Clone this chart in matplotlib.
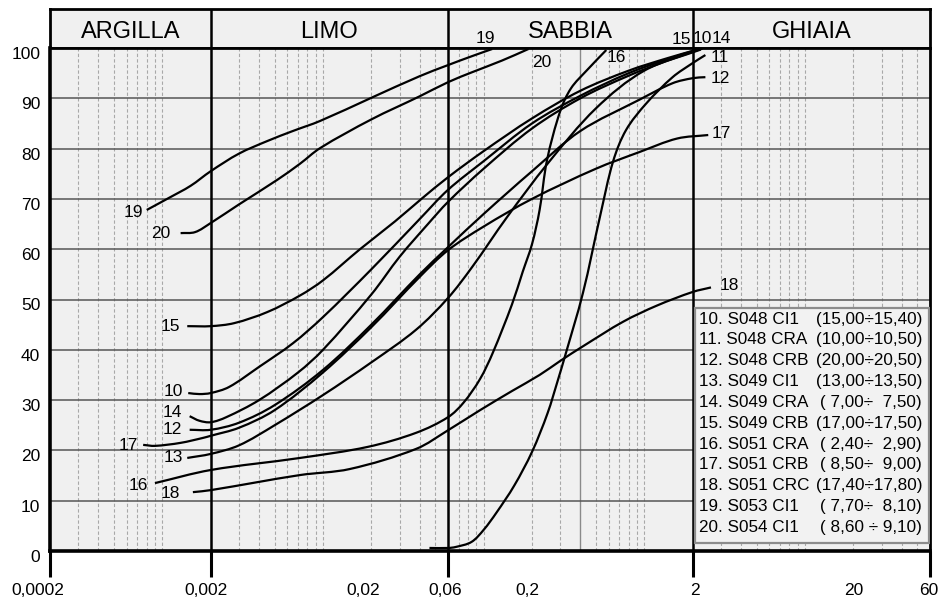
import numpy as np
import matplotlib.pyplot as plt
from matplotlib.patches import Rectangle, PathPatch
from matplotlib.path import Path
from matplotlib.transforms import ScaledTranslation
from matplotlib.ticker import NullLocator

plt.rcParams['font.family'] = ['Liberation Sans', 'DejaVu Sans']

# classi granulometriche
classes = ['ARGILLA', 'LIMO', 'SABBIA', 'GHIAIA']
class_limits = [0.0002, 0.002, 0.06, 2, 60]

x_ticks = [0.0002, 0.002, 0.02, 0.06, 0.2, 2, 20, 60]
x_tick_labels = ['0,0002', '0,002', '0,02', '0,06', '0,2', '2', '20', '60']
x_label_shift = [-12, -5, -8, -3, -5, 2, 0, -1]   # pixel
y_ticks = list(range(0, 101, 10))

# curve granulometriche: diametro (mm) e passante (%)
d10 = [0.00145, 0.0017, 0.002, 0.0026, 0.004, 0.0065, 0.01, 0.02, 0.04, 0.06, 0.1, 0.2, 0.4, 0.8, 1.4, 2.25]
p10 = [31.4, 31.2, 31.4, 32.6, 36.6, 41.3, 46.5, 56, 66, 71.8, 77.5, 85, 90.5, 95, 97.8, 99.9]

d11 = [0.046, 0.06, 0.067, 0.084, 0.1, 0.12, 0.155, 0.2, 0.25, 0.29, 0.32, 0.415, 0.53, 0.64, 0.77, 1.03, 1.5, 2.0, 2.4]
p11 = [0.6, 0.6, 0.8, 1.8, 4.2, 7.6, 13.0, 19.7, 27.4, 34, 38.6, 51.3, 66.5, 77.5, 83.7, 89, 94.2, 97, 98.6]

d12 = [0.00148, 0.002, 0.003, 0.005, 0.01, 0.02, 0.04, 0.06, 0.1, 0.2, 0.4, 0.93, 1.5, 2.0, 2.4]
p12 = [24.1, 24.1, 25.5, 29, 36, 45, 55, 60.4, 67, 75.5, 83.5, 89.7, 93, 94, 94.2]

d13 = [0.00143, 0.002, 0.003, 0.005, 0.01, 0.02, 0.038, 0.06, 0.085, 0.14, 0.25, 0.5, 1.0, 2.25]
p13 = [18.5, 19.3, 21, 25, 31, 37.5, 44, 50.3, 56.5, 66.4, 77, 88, 95.5, 99.7]

d14 = [0.00148, 0.0017, 0.002, 0.0025, 0.004, 0.007, 0.01, 0.02, 0.03, 0.045, 0.06, 0.1, 0.2, 0.4, 0.8, 1.4, 2.3]
p14 = [26.8, 25.9, 25.6, 26.6, 30, 35.5, 40, 51, 58.5, 65, 69.4, 76, 84, 90, 94.5, 97.5, 99.9]

d15 = [0.00143, 0.002, 0.0028, 0.0045, 0.0072, 0.01, 0.017, 0.028, 0.041, 0.06, 0.1, 0.2, 0.4, 0.8, 1.4, 2.2]
p15 = [44.7, 44.7, 45.3, 47.5, 50.8, 53.8, 60, 65.5, 70, 74.3, 79.5, 86, 91.5, 95.5, 98, 99.8]

d16 = [0.0009, 0.002, 0.0072, 0.019, 0.038, 0.06, 0.075, 0.095, 0.114, 0.15, 0.175, 0.2, 0.223, 0.248, 0.3, 0.35, 0.44, 0.58]
p16 = [13.5, 16.1, 18.5, 20.7, 23.5, 26.6, 29.5, 34.2, 39.4, 49, 55.5, 61, 67.8, 77.7, 87.5, 92, 95.6, 99.6]

d17 = [0.00076, 0.0009, 0.0013, 0.0018, 0.002, 0.003, 0.005, 0.01, 0.02, 0.04, 0.06, 0.1, 0.2, 0.5, 0.93, 1.6, 2.5]
p17 = [21.1, 20.9, 21.5, 22.5, 22.9, 24.5, 28, 35.5, 44.5, 54.5, 59.8, 64.5, 70, 76, 79.3, 82, 82.7]

d18 = [0.00155, 0.002, 0.0072, 0.0147, 0.038, 0.06, 0.095, 0.15, 0.223, 0.3, 0.42, 0.74, 1.2, 2.0, 2.6]
p18 = [11.7, 12.1, 15.1, 16.3, 20.3, 24, 28, 31.8, 35, 37.8, 40.8, 45.6, 48.8, 51.5, 52.4]

d19 = [0.0008, 0.0011, 0.0015, 0.002, 0.003, 0.0045, 0.0065, 0.0096, 0.02, 0.04, 0.06, 0.085, 0.113]
p19 = [67.8, 70.2, 72.6, 75.5, 79.0, 81.5, 83.5, 85.5, 90.1, 94.4, 96.6, 98.4, 99.8]

d20 = [0.0013, 0.0016, 0.002, 0.003, 0.0052, 0.0072, 0.0096, 0.02, 0.04, 0.06, 0.085, 0.13, 0.19]
p20 = [63.2, 63.4, 65.2, 68.9, 73.8, 77.0, 80.1, 85.8, 90.4, 93.2, 95.2, 97.5, 99.8]

curves = {10: (d10, p10), 11: (d11, p11), 12: (d12, p12), 13: (d13, p13),
          14: (d14, p14), 15: (d15, p15), 16: (d16, p16), 17: (d17, p17),
          18: (d18, p18), 19: (d19, p19), 20: (d20, p20)}

# numeri delle curve: spostamento in pixel dal primo / ultimo punto
labels_start = {19: (-4, -3), 20: (-10, 0), 15: (-7, 0), 10: (-5, 2), 14: (-8, 4),
                12: (-8, 0), 17: (-5, -1), 13: (-4, 0), 16: (-7, -2), 18: (-13, -1)}
labels_end = {11: (5, -2, 'left'), 12: (5, -1, 'left'), 17: (3, 2, 'left'), 18: (9, 2, 'left'),
              19: (-7, 11, 'center'), 20: (13, -13, 'center'), 16: (10, -7, 'center'),
              15: (-18, 10, 'center'), 10: (1, 10, 'center'), 14: (19, 10, 'center')}

samples = ['10. S048 CI1', '11. S048 CRA', '12. S048 CRB', '13. S049 CI1', '14. S049 CRA',
           '15. S049 CRB', '16. S051 CRA', '17. S051 CRB', '18. S051 CRC', '19. S053 CI1',
           '20. S054 CI1']
depths = ['(15,00÷15,40)', '(10,00÷10,50)', '(20,00÷20,50)', '(13,00÷13,50)', '( 7,00÷  7,50)',
          '(17,00÷17,50)', '( 2,40÷  2,90)', '( 8,50÷  9,00)', '(17,40÷17,80)', '( 7,70÷  8,10)',
          '( 8,60 ÷ 9,10)']


def smooth_path(d, p, sx=160.7, sy=5.03):
    """Curva di Bezier che passa per i punti, costruita in coordinate log(x)."""
    pts = np.column_stack([np.log10(d) * sx, np.asarray(p, float) * sy])
    n = len(pts)
    tang = np.zeros_like(pts)
    for i in range(n):
        a = pts[max(i - 1, 0)]
        b = pts[min(i + 1, n - 1)]
        v = b - a
        tang[i] = v / np.hypot(*v)
    verts = [pts[0]]
    codes = [Path.MOVETO]
    for i in range(n - 1):
        L = np.hypot(*(pts[i + 1] - pts[i])) / 3
        verts += [pts[i] + tang[i] * L, pts[i + 1] - tang[i + 1] * L, pts[i + 1]]
        codes += [Path.CURVE4] * 3
    v = np.array(verts)
    v[:, 0] = 10 ** (v[:, 0] / sx)
    v[:, 1] = v[:, 1] / sy
    return Path(v, codes)


bg = '#f0f0f0'
fig = plt.figure(figsize=(9.43, 6.02), dpi=100)
hdr = fig.add_axes([50 / 943, 1 - 48 / 602, 880 / 943, 39 / 602])
ax = fig.add_axes([50 / 943, 51 / 602, 880 / 943, 503 / 602])

# griglia verticale logaritmica
xmin, xmax = class_limits[0], class_limits[-1]
grid_x = [k * 10.0 ** n for n in range(-4, 2) for k in range(1, 10)]
grid_x = [g for g in grid_x if xmin < g < xmax and g not in class_limits]

for a in (hdr, ax):
    a.set_xscale('log')
    a.set_xlim(xmin, xmax)
    a.set_facecolor(bg)
    for s in a.spines.values():
        s.set_linewidth(2)
    for c in class_limits[1:-1]:
        a.axvline(c, color='black', lw=1.8, zorder=3)

# intestazione con le classi
hdr.set_ylim(0, 1)
hdr.set_xticks([])
hdr.set_yticks([])
hdr.xaxis.set_minor_locator(NullLocator())
for name, lo, hi in zip(classes, class_limits[:-1], class_limits[1:]):
    hdr.text(np.sqrt(lo * hi), 0.42, name, ha='center', va='center', fontsize=17)

ax.set_ylim(0, 100)
for g in grid_x:
    if abs(g - 0.4) < 1e-9:
        ax.axvline(g, color='#8a8a8a', lw=1.0, zorder=1)
    else:
        ax.axvline(g, color='#a8a8a8', lw=0.8, ls=(0, (3, 2)), zorder=1)
for yv in y_ticks[1:-1]:
    ax.axhline(yv, color='#555555', lw=1.1, zorder=1)

ax.spines['left'].set_linewidth(2.6)
ax.spines['bottom'].set_linewidth(2.6)

ax.set_yticks(y_ticks)
ax.tick_params(axis='y', length=0, pad=7, labelsize=12.5)
for t in ax.yaxis.get_major_ticks():
    t.label1.set_transform(t.label1.get_transform() + ScaledTranslation(0, -0.05, fig.dpi_scale_trans))
ax.set_xticks(x_ticks, x_tick_labels)
ax.xaxis.set_minor_locator(NullLocator())
ax.tick_params(axis='x', length=19, width=2.2, pad=4, labelsize=12.5)
for t, v, sh in zip(ax.xaxis.get_major_ticks(), x_ticks, x_label_shift):
    if v not in class_limits:
        t.tick1line.set_visible(False)
    t.label1.set_transform(t.label1.get_transform() + ScaledTranslation(sh / 100, 0, fig.dpi_scale_trans))

for cid, (d, p) in curves.items():
    ax.add_patch(PathPatch(smooth_path(d, p), fill=False, edgecolor='black', lw=1.6,
                           zorder=4, transform=ax.transData))
    if cid in labels_start:
        dx, dy = labels_start[cid]
        ax.annotate(str(cid), (d[0], p[0]), xytext=(dx, dy), textcoords='offset pixels',
                    ha='right', va='center', fontsize=12.5, zorder=5)
    if cid in labels_end:
        dx, dy, ha = labels_end[cid]
        ax.annotate(str(cid), (d[-1], p[-1]), xytext=(dx, dy), textcoords='offset pixels',
                    ha=ha, va='center', fontsize=12.5, zorder=5, annotation_clip=False)

# legenda dei campioni
ax.add_patch(Rectangle((0.733, 0.016), 0.266, 0.467, transform=ax.transAxes,
                       facecolor='#f2f2f2', edgecolor='#8c8c8c', lw=1.6, zorder=6))
for i, (s, dp) in enumerate(zip(samples, depths)):
    yy = 0.461 - i * 0.0414
    ax.text(0.737, yy, s, transform=ax.transAxes, ha='left', va='center', fontsize=12.3, zorder=7)
    ax.text(0.991, yy, dp, transform=ax.transAxes, ha='right', va='center', fontsize=12.3, zorder=7)

fig.savefig('out.png', dpi=100)
